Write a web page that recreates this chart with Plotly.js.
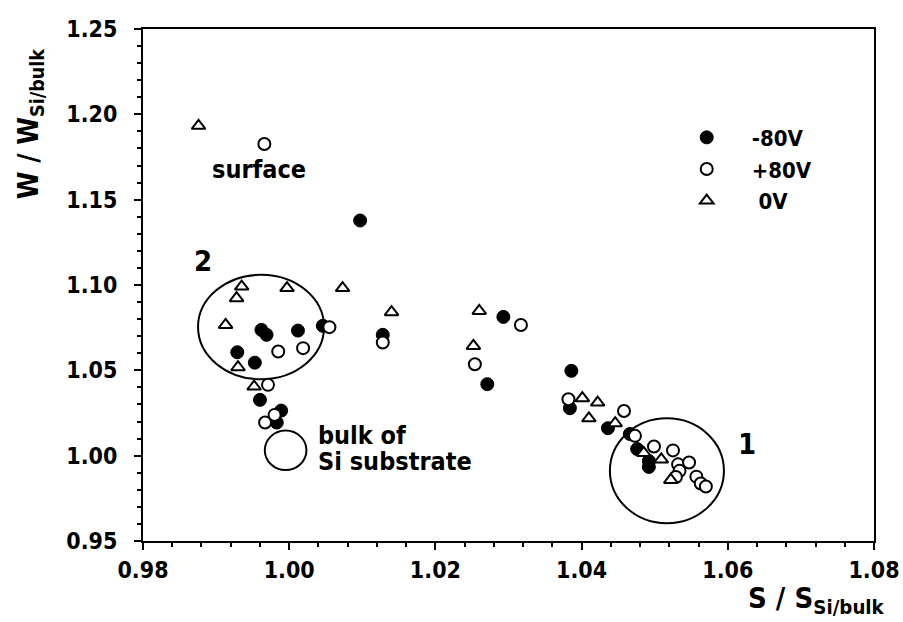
<!DOCTYPE html>
<html>
<head>
<meta charset="utf-8">
<script src="https://cdn.plot.ly/plotly-3.0.1.min.js"></script>
<style>
  html, body { margin: 0; padding: 0; background: #fff; }
  #chart { width: 903px; height: 622px; }
</style>
</head>
<body>
<div id="chart"></div>
<script>
// ---- data ----
const seriesNames = ["-80V", "+80V", "\u00a00V"];

const negX = [1.0097, 0.9962, 0.9969, 1.0012, 0.9929, 0.9953, 0.9960, 0.9989, 0.9983, 1.0046,
              1.0128, 1.0293, 1.0271, 1.0386, 1.0384, 1.0436, 1.0466, 1.0476, 1.0492, 1.0492];
const negY = [1.1378, 1.0737, 1.0708, 1.0733, 1.0606, 1.0545, 1.0327, 1.0264, 1.0194, 1.0761,
              1.0708, 1.0813, 1.0419, 1.0497, 1.0278, 1.0161, 1.0127, 1.0039, 0.9969, 0.9934];

const posX = [0.9966, 0.9985, 1.0019, 1.0055, 0.9971, 0.9980, 0.9967, 1.0128, 1.0317, 1.0254,
              1.0382, 1.0458, 1.0473, 1.0499, 1.0525, 1.0532, 1.0534, 1.0529, 1.0547, 1.0557,
              1.0563, 1.0570];
const posY = [1.1826, 1.0610, 1.0630, 1.0753, 1.0415, 1.0239, 1.0194, 1.0663, 1.0766, 1.0536,
              1.0331, 1.0262, 1.0116, 1.0054, 1.0031, 0.9949, 0.9911, 0.9875, 0.9960, 0.9877,
              0.9837, 0.9819];

const zeroX = [0.9876, 0.9935, 0.9928, 0.9997, 0.9913, 0.9930, 0.9952, 1.0073, 1.0140, 1.0260,
               1.0252, 1.0401, 1.0422, 1.0410, 1.0446, 1.0485, 1.0509, 1.0522];
const zeroY = [1.1933, 1.0991, 1.0923, 1.0982, 1.0766, 1.0518, 1.0405, 1.0982, 1.0841, 1.0848,
               1.0643, 1.0337, 1.0311, 1.0219, 1.0190, 1.0016, 0.9978, 0.9858];

const xTickVals = [0.98, 1.00, 1.02, 1.04, 1.06, 1.08];
const xTickText = ["0.98", "1.00", "1.02", "1.04", "1.06", "1.08"];
const yTickVals = [0.95, 1.00, 1.05, 1.10, 1.15, 1.20, 1.25];
const yTickText = ["0.95", "1.00", "1.05", "1.10", "1.15", "1.20", "1.25"];

// ---- styling ----
const FONT = "DejaVu Sans Condensed, DejaVu Sans, sans-serif";
const INK = "#000000";

const traces = [
  {
    x: negX, y: negY, name: seriesNames[0], type: "scatter", mode: "markers",
    marker: { symbol: "circle", size: 13, color: INK, line: { color: INK, width: 1 } }
  },
  {
    x: posX, y: posY, name: seriesNames[1], type: "scatter", mode: "markers",
    marker: { symbol: "circle", size: 12, color: "#ffffff", line: { color: INK, width: 2 } }
  },
  {
    x: zeroX, y: zeroY, name: seriesNames[2], type: "scatter", mode: "markers",
    marker: { symbol: "triangle-up", size: 12, color: "#ffffff", line: { color: INK, width: 2 } }
  }
];

const axisCommon = {
  showgrid: false, zeroline: false,
  showline: true, linecolor: INK, linewidth: 2, mirror: true,
  ticks: "outside", ticklen: 7, tickwidth: 2, tickcolor: INK,
  tickfont: { family: FONT, size: 23, color: INK, weight: "bold" }
};

const layout = {
  width: 903, height: 622,
  paper_bgcolor: "#ffffff", plot_bgcolor: "#ffffff",
  margin: { l: 143, r: 29, t: 29, b: 81 },
  showlegend: true,
  legend: {
    x: 0.7096, y: 0.829, xanchor: "left", yanchor: "top",
    bgcolor: "rgba(0,0,0,0)", borderwidth: 0,
    itemwidth: 80,
    font: { family: FONT, size: 22, color: INK, weight: "bold" },
    tracegroupgap: 0
  },
  xaxis: Object.assign({}, axisCommon, {
    range: [0.98, 1.08], tickmode: "array", tickvals: xTickVals, ticktext: xTickText,
    minor: { dtick: 0.004, ticks: "outside", ticklen: 4, tickwidth: 2, tickcolor: INK }
  }),
  yaxis: Object.assign({}, axisCommon, {
    range: [0.95, 1.25], tickmode: "array", tickvals: yTickVals, ticktext: yTickText,
    ticklabelstandoff: 12,
    minor: { dtick: 0.01, ticks: "outside", ticklen: 4, tickwidth: 2, tickcolor: INK }
  }),
  shapes: [
    { type: "circle", xref: "x", yref: "y", x0: 0.98753, x1: 1.00477, y0: 1.0448, y1: 1.1060,
      line: { color: INK, width: 2 }, layer: "below" },
    { type: "circle", xref: "x", yref: "y", x0: 0.99666, x1: 1.00236, y0: 0.9916, y1: 1.0147,
      line: { color: INK, width: 2 }, layer: "below" },
    { type: "circle", xref: "x", yref: "y", x0: 1.04387, x1: 1.05947, y0: 0.9604, y1: 1.0219,
      line: { color: INK, width: 2 }, layer: "below" }
  ],
  annotations: [
    { text: "surface", xref: "x", yref: "y", x: 0.99583, y: 1.1675, showarrow: false,
      xanchor: "center", yanchor: "middle", font: { family: FONT, size: 25, color: INK, weight: "bold" } },
    { text: "2", xref: "x", yref: "y", x: 0.98817, y: 1.1142, showarrow: false,
      xanchor: "center", yanchor: "middle", font: { family: FONT, size: 29, color: INK, weight: "bold" } },
    { text: "1", xref: "x", yref: "y", x: 1.06262, y: 1.0069, showarrow: false,
      xanchor: "center", yanchor: "middle", font: { family: FONT, size: 29, color: INK, weight: "bold" } },
    { text: "bulk of", xref: "x", yref: "y", x: 1.00373, y: 1.0118, showarrow: false,
      xanchor: "left", yanchor: "middle", font: { family: FONT, size: 25, color: INK, weight: "bold" } },
    { text: "Si substrate", xref: "x", yref: "y", x: 1.00373, y: 0.9966, showarrow: false,
      xanchor: "left", yanchor: "middle", font: { family: FONT, size: 25, color: INK, weight: "bold" } },
    { text: "W / W<sub>Si/bulk</sub>", xref: "paper", yref: "paper", x: -0.1537, y: 0.815,
      textangle: -90, showarrow: false, xanchor: "center", yanchor: "middle",
      font: { family: FONT, size: 28, color: INK, weight: "bold" } },
    { text: "S / S<sub>Si/bulk</sub>", xref: "paper", yref: "paper", x: 0.922, y: -0.1153,
      showarrow: false, xanchor: "center", yanchor: "middle",
      font: { family: FONT, size: 29, color: INK, weight: "bold" } }
  ]
};

Plotly.newPlot("chart", traces, layout, { displayModeBar: false, staticPlot: true });
</script>
</body>
</html>
